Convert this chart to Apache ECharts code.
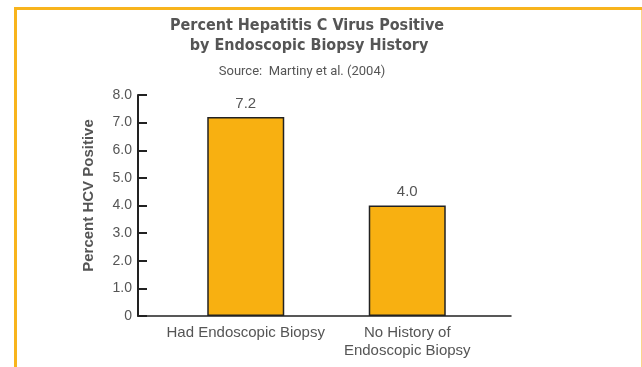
<!DOCTYPE html>
<html>
<head>
<meta charset="utf-8">
<script src="https://cdn.jsdelivr.net/npm/echarts@6/dist/echarts.min.js"></script>
<style>
html,body{margin:0;padding:0;background:#fff;}
#c{width:642px;height:367px;}
</style>
</head>
<body>
<div id="c"></div>
<script>
var categories = ['Had Endoscopic Biopsy', 'No History of\nEndoscopic Biopsy'];
var values = [7.2, 4.0];
var yTicks = ['0', '1.0', '2.0', '3.0', '4.0', '5.0', '6.0', '7.0', '8.0'];
var titleLines = ['Percent Hepatitis C Virus Positive', 'by Endoscopic Biopsy History'];
var sourceText = 'Source:  Martiny et al. (2004)';
var yName = 'Percent HCV Positive';

var chart = echarts.init(document.getElementById('c'), null, {renderer: 'canvas'});
var gray = '#555';
var frame = '#F8B41C';
var titleFont = 'bold 16px "DejaVu Sans Condensed", Roboto, sans-serif';
var option = {
  animation: false,
  backgroundColor: '#fff',
  graphic: [
    {type: 'rect', shape: {x: 14, y: 7, width: 628, height: 3}, style: {fill: frame}, silent: true},
    {type: 'rect', shape: {x: 14, y: 7, width: 3, height: 360}, style: {fill: frame}, silent: true},
    {type: 'rect', shape: {x: 641, y: 10, width: 1, height: 357}, style: {fill: '#FAD58A'}, silent: true},
    {type: 'text', style: {text: titleLines[0], x: 307, y: 26, align: 'center', verticalAlign: 'middle',
      font: titleFont, fill: gray}},
    {type: 'text', style: {text: titleLines[1], x: 309, y: 46, align: 'center', verticalAlign: 'middle',
      font: titleFont, fill: gray}},
    {type: 'text', style: {text: sourceText, x: 302, y: 72, align: 'center', verticalAlign: 'middle',
      font: '13px Roboto, sans-serif', fill: gray}}
  ],
  grid: [
    {left: 138, right: 131, top: 95, bottom: 51},
    {left: 165, right: 154, top: 95, bottom: 51}
  ],
  xAxis: [
    {type: 'category', gridIndex: 0, data: categories,
      axisLine: {lineStyle: {color: '#222', width: 1.5}}, axisTick: {show: false}, axisLabel: {show: false}},
    {type: 'category', gridIndex: 1, data: categories,
      axisLine: {show: false}, axisTick: {show: false},
      axisLabel: {interval: 0, color: gray, fontSize: 15, fontFamily: 'Liberation Sans', lineHeight: 18, margin: 8}}
  ],
  yAxis: [
    {type: 'value', gridIndex: 0, min: 0, max: 8, interval: 1,
      name: yName, nameLocation: 'middle', nameGap: 42,
      nameTextStyle: {color: gray, fontSize: 15, fontWeight: 'bold', fontFamily: 'Liberation Sans', padding: [0, 0, 0, 20]},
      axisLine: {show: true, lineStyle: {color: '#222', width: 2}},
      axisTick: {show: true, inside: true, length: 9, lineStyle: {color: '#222', width: 2}},
      splitLine: {show: false},
      axisLabel: {color: gray, fontSize: 14, fontFamily: 'Liberation Sans', margin: 6,
        formatter: function (v) { return yTicks[Math.round(v)]; }}},
    {type: 'value', gridIndex: 1, min: 0, max: 8, interval: 1, show: false}
  ],
  series: [{
    type: 'bar', xAxisIndex: 1, yAxisIndex: 1, data: values, barWidth: 77,
    itemStyle: {color: '#F8B011', borderColor: '#222', borderWidth: 1.5},
    label: {show: true, position: 'top', distance: 6, color: gray, fontSize: 15, fontFamily: 'Liberation Sans',
      formatter: function (p) { return p.value.toFixed(1); }}
  }]
};
chart.setOption(option);
</script>
</body>
</html>
